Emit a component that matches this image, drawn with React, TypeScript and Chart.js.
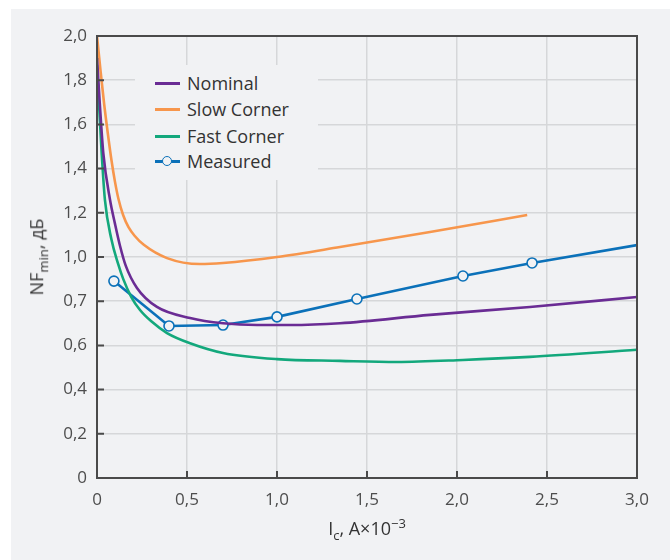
import React, { useEffect, useRef } from "react";
import { Chart, registerables } from "chart.js";

Chart.register(...registerables);

const yTickLabels = ["0", "0,2", "0,4", "0,6", "0,7", "1,0", "1,2", "1,4", "1,6", "1,8", "2,0"];
const xTickLabels = ["0", "0,5", "1,0", "1,5", "2,0", "2,5", "3,0"];

const nominalX = [0, 0.015, 0.035, 0.072, 0.1, 0.128, 0.16, 0.222, 0.333, 0.517, 0.7, 0.889, 1.072, 1.35, 1.85, 2.405, 3.0];
const nominalY = [1.9, 1.7, 1.47, 1.26, 1.15, 1.05, 0.96, 0.86, 0.774, 0.724, 0.7, 0.692, 0.692, 0.7, 0.738, 0.774, 0.819];

const slowX = [0, 0.02, 0.04, 0.06, 0.08, 0.1, 0.12, 0.145, 0.175, 0.21, 0.26, 0.389, 0.572, 0.7, 1.0, 1.35, 1.85, 2.39];
const slowY = [2.0, 1.84, 1.69, 1.56, 1.44, 1.34, 1.26, 1.19, 1.135, 1.095, 1.055, 0.995, 0.968, 0.973, 1.0, 1.045, 1.113, 1.19];

const fastX = [0, 0.012, 0.026, 0.044, 0.08, 0.117, 0.146, 0.19, 0.239, 0.3, 0.389, 0.517, 0.7, 1.0, 1.35, 1.667, 2.033, 2.405, 3.0];
const fastY = [1.87, 1.68, 1.47, 1.258, 1.08, 0.97, 0.9, 0.82, 0.76, 0.71, 0.656, 0.61, 0.566, 0.538, 0.53, 0.525, 0.534, 0.548, 0.58];

const measuredX = [0.094, 0.4, 0.7, 1.0, 1.444, 2.033, 2.417, 3.0];
const measuredY = [0.891, 0.688, 0.692, 0.729, 0.81, 0.914, 0.973, 1.054];
const measuredMarker = [true, true, true, true, true, true, true, false];

const seriesNames = ["Nominal", "Slow Corner", "Fast Corner", "Measured"];
const COLORS = ["#6a2c94", "#f7964c", "#13a87c", "#0b71b9"];
const BG = "#f1f2f4";
const FONT = "'Open Sans', sans-serif";

const pts = (xs: number[], ys: number[]) => xs.map((x, i) => ({ x, y: ys[i] }));

const framePlugin = {
  id: "frame",
  afterDatasetsDraw(chart: any) {
    const { ctx, chartArea } = chart;
    const { left, right, top, bottom } = chartArea;
    ctx.save();
    ctx.strokeStyle = "#4a4a4a";
    ctx.lineWidth = 2;
    ctx.strokeRect(left, top, right - left, bottom - top);
    const ys = chart.scales.y;
    const xs = chart.scales.x;
    ctx.beginPath();
    ys.ticks.forEach((t: any) => {
      const py = ys.getPixelForValue(t.value);
      ctx.moveTo(left, py);
      ctx.lineTo(left + 7, py);
    });
    xs.ticks.forEach((t: any) => {
      const px = xs.getPixelForValue(t.value);
      ctx.moveTo(px, bottom);
      ctx.lineTo(px, bottom - 7);
    });
    ctx.stroke();
    ctx.restore();
  },
};

export default function App() {
  const ref = useRef<HTMLCanvasElement | null>(null);

  useEffect(() => {
    if (!ref.current) return;
    const lineBase = {
      borderWidth: 2.6,
      pointRadius: 0,
      fill: false,
      cubicInterpolationMode: "monotone" as const,
    };
    const chart = new Chart(ref.current, {
      type: "line",
      data: {
        datasets: [
          { ...lineBase, label: seriesNames[0], data: pts(nominalX, nominalY), borderColor: COLORS[0] },
          { ...lineBase, label: seriesNames[1], data: pts(slowX, slowY), borderColor: COLORS[1] },
          { ...lineBase, label: seriesNames[2], data: pts(fastX, fastY), borderColor: COLORS[2] },
          {
            label: seriesNames[3],
            data: pts(measuredX, measuredY),
            borderColor: COLORS[3],
            borderWidth: 2.6,
            tension: 0,
            fill: false,
            pointRadius: measuredMarker.map((m) => (m ? 5 : 0)),
            pointBorderWidth: 1.6,
            pointBackgroundColor: BG,
            pointBorderColor: COLORS[3],
          },
        ],
      },
      options: {
        responsive: false,
        animation: false,
        layout: { padding: { top: 36, right: 33, left: 0, bottom: 0 } },
        plugins: { legend: { display: false }, tooltip: { enabled: false } },
        scales: {
          x: {
            type: "linear",
            min: 0,
            max: 3,
            afterFit: (s: any) => {
              s.height = 82;
            },
            ticks: {
              stepSize: 0.5,
              padding: 12,
              color: "#4d4d4d",
              font: { family: FONT, size: 17 },
              callback: (_v: any, i: number) => xTickLabels[i],
              maxRotation: 0,
            },
            grid: { color: "#d6d7d9", lineWidth: 1.5, drawTicks: false },
            border: { display: false },
          },
          y: {
            type: "linear",
            min: 0,
            max: 2,
            afterFit: (s: any) => {
              s.width = 97;
            },
            ticks: {
              stepSize: 0.2,
              padding: 10,
              color: "#4d4d4d",
              font: { family: FONT, size: 17 },
              callback: (_v: any, i: number) => yTickLabels[i],
            },
            grid: { color: "#d6d7d9", lineWidth: 1.5, drawTicks: false },
            border: { display: false },
          },
        },
      },
      plugins: [framePlugin],
    });
    return () => chart.destroy();
  }, []);

  const legendRow = (i: number, top: number) => (
    <div key={i} style={{ position: "absolute", left: 0, top: top - 13, height: 26, width: 183 }}>
      <div
        style={{
          position: "absolute",
          left: 20,
          top: 12,
          width: 25,
          height: 3,
          background: COLORS[i],
        }}
      />
      {i === 3 && (
        <div
          style={{
            position: "absolute",
            left: 27,
            top: 8,
            width: 8,
            height: 8,
            borderRadius: "50%",
            border: `1.6px solid ${COLORS[3]}`,
            background: BG,
          }}
        />
      )}
      <div
        style={{
          position: "absolute",
          left: 52,
          top: 0,
          lineHeight: "26px",
          fontSize: 18,
          color: "#333",
          fontFamily: FONT,
          whiteSpace: "nowrap",
        }}
      >
        {seriesNames[i]}
      </div>
    </div>
  );

  return (
    <div style={{ position: "absolute", left: 0, top: 0, width: 670, height: 560, background: "#fff", overflow: "hidden" }}>
      <div style={{ position: "absolute", left: 11, top: 9, right: 0, bottom: 0, background: BG }} />
      <canvas ref={ref} width={670} height={560} style={{ position: "absolute", left: 0, top: 0 }} />
      <div style={{ position: "absolute", left: 135, top: 65, width: 183, height: 115, background: BG }}>
        {legendRow(0, 18)}
        {legendRow(1, 44)}
        {legendRow(2, 71)}
        {legendRow(3, 96)}
      </div>
      <div
        style={{
          position: "absolute",
          left: 38,
          top: 257,
          transform: "translate(-50%, -50%) rotate(-90deg)",
          fontFamily: FONT,
          fontSize: 18,
          color: "#333",
          whiteSpace: "nowrap",
        }}
      >
        NF<sub style={{ fontSize: 13 }}>min</sub>, дБ
      </div>
      <div
        style={{
          position: "absolute",
          left: 367,
          top: 529,
          transform: "translate(-50%, -50%)",
          fontFamily: FONT,
          fontSize: 18,
          color: "#333",
          whiteSpace: "nowrap",
        }}
      >
        I<sub style={{ fontSize: 13 }}>c</sub>, A×10<sup style={{ fontSize: 13 }}>−3</sup>
      </div>
    </div>
  );
}
